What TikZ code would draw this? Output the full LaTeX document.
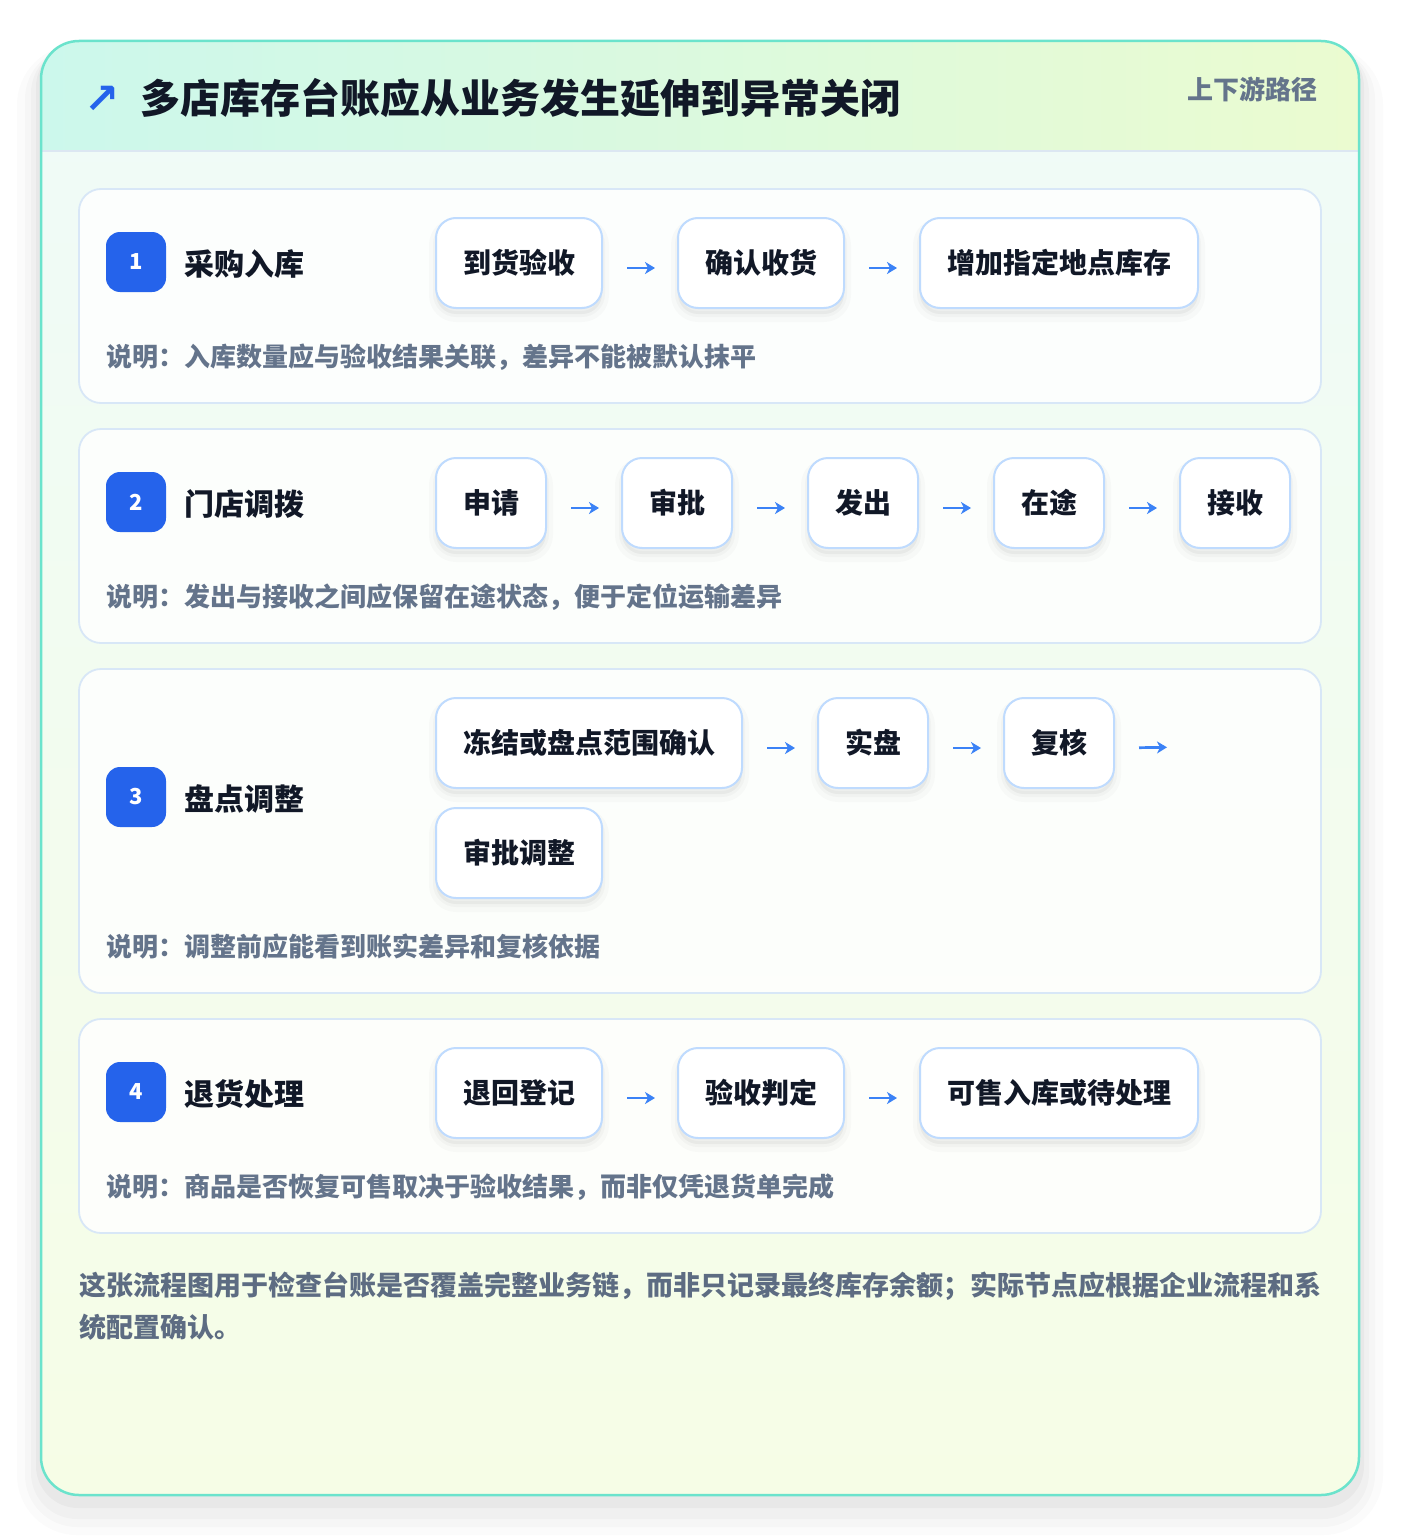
\documentclass[tikz,border=0pt]{standalone}
\usepackage{fontspec}
\setmainfont{Noto Sans CJK SC}
\newfontfamily\symfont{DejaVu Sans}
\usetikzlibrary{arrows.meta}

\definecolor{ink}{HTML}{111827}
\definecolor{slate}{HTML}{64748B}
\definecolor{tailgray}{HTML}{5D6C82}
\definecolor{badgeblue}{HTML}{2563EB}
\definecolor{arrowblue}{HTML}{3B82F6}
\definecolor{boxline}{HTML}{BFDBFE}
\definecolor{panelline}{HTML}{D8E7F7}
\definecolor{cardline}{HTML}{6BE3CC}
\definecolor{hdrleft}{HTML}{CCF8EC}
\definecolor{hdrright}{HTML}{EBFBD0}
\definecolor{bodytop}{HTML}{EFFBF8}
\definecolor{bodybottom}{HTML}{F6FDE6}
\definecolor{hdrline}{HTML}{DCE7F2}

\newcommand\hdrfont{\fontsize{40}{46}\selectfont\bfseries}
\newcommand\tagfont{\fontsize{26}{30}\selectfont\bfseries}
\newcommand\stepfont{\fontsize{30}{34}\selectfont\bfseries}
\newcommand\cellfont{\fontsize{28}{32}\selectfont\bfseries}
\newcommand\memofont{\fontsize{26}{30}\selectfont\bfseries}
\newcommand\tailfont{\fontsize{27}{42}\selectfont\bfseries}

\tikzset{
  panel/.style={draw=panelline, line width=1.8, fill=white, fill opacity=0.82, rounded corners=22},
  stepbox/.style={draw=boxline, line width=2, fill=white, rounded corners=20,
    minimum height=90, inner sep=0, anchor=north west, font=\cellfont, text=ink,
    preaction={draw=black, draw opacity=0.018, line width=14, transform canvas={yshift=-7pt}},
    preaction={draw=black, draw opacity=0.025, line width=6, fill=black, fill opacity=0.04, transform canvas={yshift=-6pt}}},
  badge/.style={fill=badgeblue, rounded corners=14, minimum size=60, inner sep=0,
    text=white, font=\fontsize{22}{24}\selectfont\bfseries},
  steptitle/.style={anchor=west, inner sep=0, text=ink, font=\stepfont},
  memo/.style={anchor=west, inner sep=0, text=slate, font=\memofont},
  flow/.style={draw=arrowblue, line width=2.7, -{Stealth[length=10pt,width=12pt,inset=3pt]},
    shorten <=24pt, shorten >=22pt}
}

\begin{document}
\begin{tikzpicture}[x=1pt,y=-1pt]
  \useasboundingbox (0,0) rectangle (1400,1536);
  \fill[white] (0,0) rectangle (1400,1536);

  % card shadow
  \fill[black, opacity=0.015, rounded corners=60] (17,45) rectangle (1383,1535);
  \fill[black, opacity=0.02, rounded corners=52] (25,47) rectangle (1375,1527);
  \fill[black, opacity=0.025, rounded corners=46] (31,47) rectangle (1369,1519);
  \fill[black, opacity=0.03, rounded corners=42] (36,45) rectangle (1364,1508);

  % card
  \path[rounded corners=38, top color=bodytop, bottom color=bodybottom]
    (41,41) rectangle (1359,1495);
  \begin{scope}
    \clip[rounded corners=38] (41,41) rectangle (1359,1495);
    \fill[left color=hdrleft, right color=hdrright] (41,41) rectangle (1359,151);
    \draw[hdrline, line width=2] (41,151) -- (1359,151);
  \end{scope}
  \draw[cardline, line width=2.5, rounded corners=38] (41,41) rectangle (1359,1495);

  \node[text=badgeblue, font=\symfont\fontsize{42}{44}\selectfont\bfseries] (icon) at (102,100) {↗};
  \node[anchor=west, inner sep=0, text=ink, font=\hdrfont] (title) at (140,98) {多店库存台账应从业务发生延伸到异常关闭};
  \node[anchor=east, inner sep=0, text=slate, font=\tagfont] (tag) at (1318,89) {上下游路径};

  % panels
  \draw[panel] (79,189) rectangle (1321,403);
  \draw[panel] (79,429) rectangle (1321,643);
  \draw[panel] (79,669) rectangle (1321,993);
  \draw[panel] (79,1019) rectangle (1321,1233);

  % 1
  \node[badge] (n1) at (136,262) {1};
  \node[steptitle] (t1) at (184,264) {采购入库};
  \node[stepbox, minimum width=166] (a1) at (435,217) {到货验收};
  \node[stepbox, minimum width=166] (a2) at (677,217) {确认收货};
  \node[stepbox, minimum width=278] (a3) at (919,217) {增加指定地点库存};
  \draw[flow] ([yshift=-5pt]a1.east) -- ([yshift=-5pt]a2.west);
  \draw[flow] ([yshift=-5pt]a2.east) -- ([yshift=-5pt]a3.west);
  \node[memo] (d1) at (106,357) {说明：入库数量应与验收结果关联，差异不能被默认抹平};

  % 2
  \node[badge] (n2) at (136,502) {2};
  \node[steptitle] (t2) at (184,504) {门店调拨};
  \node[stepbox, minimum width=110] (b1) at (435,457) {申请};
  \node[stepbox, minimum width=110] (b2) at (621,457) {审批};
  \node[stepbox, minimum width=110] (b3) at (807,457) {发出};
  \node[stepbox, minimum width=110] (b4) at (993,457) {在途};
  \node[stepbox, minimum width=110] (b5) at (1179,457) {接收};
  \draw[flow] ([yshift=-5pt]b1.east) -- ([yshift=-5pt]b2.west);
  \draw[flow] ([yshift=-5pt]b2.east) -- ([yshift=-5pt]b3.west);
  \draw[flow] ([yshift=-5pt]b3.east) -- ([yshift=-5pt]b4.west);
  \draw[flow] ([yshift=-5pt]b4.east) -- ([yshift=-5pt]b5.west);
  \node[memo] (d2) at (106,597) {说明：发出与接收之间应保留在途状态，便于定位运输差异};

  % 3
  \node[badge] (n3) at (136,797) {3};
  \node[steptitle] (t3) at (184,799) {盘点调整};
  \node[stepbox, minimum width=306] (c1) at (435,697) {冻结或盘点范围确认};
  \node[stepbox, minimum width=110] (c2) at (817,697) {实盘};
  \node[stepbox, minimum width=110] (c3) at (1003,697) {复核};
  \coordinate (c3end) at (1189,742);
  \node[stepbox, minimum width=166] (c4) at (435,807) {审批调整};
  \draw[flow] ([yshift=-5pt]c1.east) -- ([yshift=-5pt]c2.west);
  \draw[flow] ([yshift=-5pt]c2.east) -- ([yshift=-5pt]c3.west);
  \draw[flow] ([yshift=-5pt]c3.east) -- ([yshift=-5pt]c3end);
  \node[memo] (d3) at (106,947) {说明：调整前应能看到账实差异和复核依据};

  % 4
  \node[badge] (n4) at (136,1092) {4};
  \node[steptitle] (t4) at (184,1094) {退货处理};
  \node[stepbox, minimum width=166] (e1) at (435,1047) {退回登记};
  \node[stepbox, minimum width=166] (e2) at (677,1047) {验收判定};
  \node[stepbox, minimum width=278] (e3) at (919,1047) {可售入库或待处理};
  \draw[flow] ([yshift=-5pt]e1.east) -- ([yshift=-5pt]e2.west);
  \draw[flow] ([yshift=-5pt]e2.east) -- ([yshift=-5pt]e3.west);
  \node[memo] (d4) at (106,1187) {说明：商品是否恢复可售取决于验收结果，而非仅凭退货单完成};

  % footer
  \node[anchor=west, inner sep=0, align=left, text=tailgray, font=\tailfont] (tail) at (79,1306)
    {这张流程图用于检查台账是否覆盖完整业务链，而非只记录最终库存余额；实际节点应根据企业流程和系\\统配置确认。};
\end{tikzpicture}
\end{document}
